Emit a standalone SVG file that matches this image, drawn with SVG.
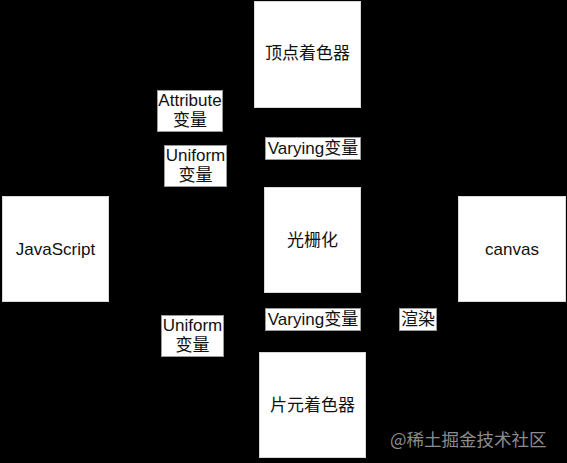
<svg xmlns="http://www.w3.org/2000/svg" width="567" height="463" viewBox="0 0 567 463">
<defs>
<style>
.node{fill:#fff;stroke:#d8d8d8;stroke-width:1}
.lbl{fill:#fff;stroke:#9a9a9a;stroke-width:1}
.t{font-family:"Liberation Sans","Noto Sans CJK SC",sans-serif;font-size:17px;fill:#111;text-anchor:middle;dominant-baseline:central}
.s{font-family:"Liberation Sans","Noto Sans CJK SC",sans-serif;font-size:17px;fill:#111;text-anchor:middle;dominant-baseline:central}
.edge{fill:none;stroke:#000;stroke-width:1;marker-end:url(#arr)}
.wm{font-family:"Noto Sans CJK SC","Liberation Sans",sans-serif;font-size:17.5px;fill:#8c8c8c;dominant-baseline:central}
</style>
<marker id="arr" viewBox="0 0 10 10" refX="9" refY="5" markerWidth="8" markerHeight="8" orient="auto"><path d="M0,0L10,5L0,10z" fill="#000"/></marker>
</defs>
<rect x="0" y="0" width="567" height="463" fill="#000"/>
<g id="connectors">
<path class="edge" d="M90,196L254,55"/>
<path class="edge" d="M108,240L254,95"/>
<path class="edge" d="M307,108L307,187"/>
<path class="edge" d="M312,293L312,352"/>
<path class="edge" d="M108,290L259,390"/>
<path class="edge" d="M366,390L418,319L470,302"/>
</g>
<g id="vertex-shader"><rect class="node" x="254.5" y="1.5" width="106" height="106"/><text class="t" x="307.5" y="53">顶点着色器</text></g>
<g id="javascript"><rect class="node" x="2.5" y="196.5" width="106" height="105"/><text class="t" x="55.5" y="249">JavaScript</text></g>
<g id="rasterization"><rect class="node" x="264.5" y="187.5" width="96" height="105"/><text class="t" x="312.5" y="240">光栅化</text></g>
<g id="canvas"><rect class="node" x="458.5" y="196.5" width="107" height="105"/><text class="t" x="512" y="249">canvas</text></g>
<g id="fragment-shader"><rect class="node" x="259.5" y="352.5" width="106" height="105"/><text class="t" x="312.5" y="405">片元着色器</text></g>
<g id="label-attribute"><rect class="lbl" x="157.5" y="90.5" width="65" height="41"/><text class="s" x="190" y="100.5">Attribute</text><text class="s" x="190" y="120.5">变量</text></g>
<g id="label-uniform-top"><rect class="lbl" x="164.5" y="145.5" width="62" height="41"/><text class="s" x="195.5" y="155.5">Uniform</text><text class="s" x="195.5" y="175.5">变量</text></g>
<g id="label-varying-top"><rect class="lbl" x="265.5" y="137.5" width="95" height="22"/><text class="s" x="313" y="148.5">Varying变量</text></g>
<g id="label-varying-bottom"><rect class="lbl" x="265.5" y="308.5" width="95" height="22"/><text class="s" x="313" y="319.5">Varying变量</text></g>
<g id="label-uniform-bottom"><rect class="lbl" x="161.5" y="315.5" width="62" height="41"/><text class="s" x="192.5" y="325.5">Uniform</text><text class="s" x="192.5" y="345.5">变量</text></g>
<g id="label-render"><rect class="lbl" x="399.5" y="308.5" width="37" height="22"/><text class="s" x="418" y="319.5">渲染</text></g>
<text class="wm" x="390" y="438">@稀土掘金技术社区</text>
</svg>
